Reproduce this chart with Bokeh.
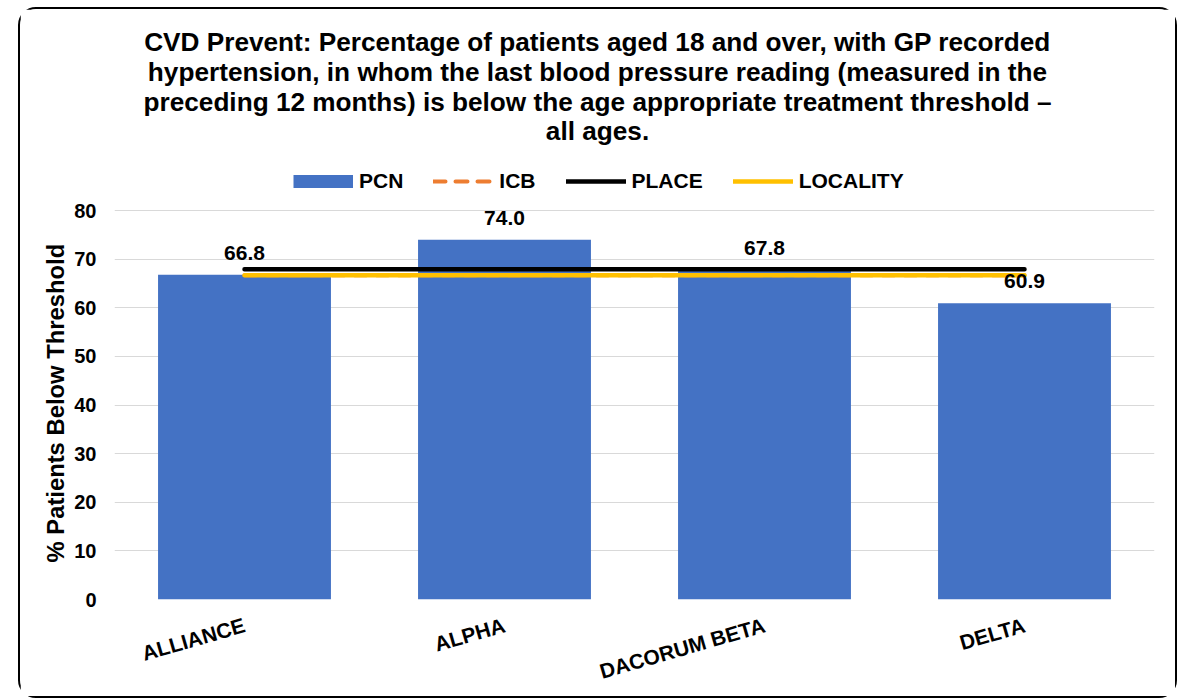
from bokeh.plotting import figure
from bokeh.models import (Label, LabelSet, Legend, LegendItem, ColumnDataSource, Title,
                          FactorRange, Range1d, FixedTicker)
from bokeh.layouts import column
from bokeh.embed import file_html
from bokeh.resources import INLINE
from bokeh.core.properties import value

# ---- data ----
categories = ["ALLIANCE", "ALPHA", "DACORUM BETA", "DELTA"]
pcn = [66.8, 74.0, 67.8, 60.9]
icb = [66.7, 66.7, 66.7, 66.7]
place = [67.9, 67.9, 67.9, 67.9]
locality = [66.7, 66.7, 66.7, 66.7]
y_ticks = [0, 10, 20, 30, 40, 50, 60, 70, 80]
title_lines = [
    "CVD Prevent: Percentage of patients aged 18 and over, with GP recorded",
    "hypertension, in whom the last blood pressure reading (measured in the",
    "preceding 12 months) is below the age appropriate treatment threshold \u2013",
    "all ages.",
]
y_label = "% Patients Below Threshold"

FONT = "Liberation Sans"
BLUE = "#4472C4"
ORANGE = "#ED7D31"
GOLD = "#FFC000"

src = ColumnDataSource(dict(
    cat=categories, pcn=pcn, icb=icb, place=place, locality=locality,
    lbl=[f"{v:.1f}" for v in pcn],
))

W, H = 1155, 687
BOTTOM = 97
FRAME_H = H - BOTTOM          # frame spans from the top of the figure
AXIS_PX = 389                 # pixels used by 0..80
y_top = 80 * FRAME_H / AXIS_PX

p = figure(x_range=FactorRange(*categories), y_range=Range1d(0, y_top),
           width=W, height=H, output_backend="svg", toolbar_location=None,
           min_border_left=94, min_border_right=21, min_border_top=0,
           min_border_bottom=BOTTOM)
p.outline_line_color = None
p.background_fill_color = "white"
p.border_fill_color = "white"

bars = p.vbar(x="cat", top="pcn", width=0.665, source=src, fill_color=BLUE, line_color=None)
icb_r = p.line(x="cat", y="icb", source=src, line_color=ORANGE, line_width=4,
               line_dash="12 10", line_cap="round")
place_r = p.line(x="cat", y="place", source=src, line_color="black", line_width=4.5,
                 line_cap="round")
loc_r = p.line(x="cat", y="locality", source=src, line_color=GOLD, line_width=4.5,
               line_cap="round")
# legend swatch for the PCN bars (draws nothing in the plot itself)
pcn_sw = p.line(x=[categories[0]], y=[float("nan")], line_color=BLUE, line_width=13,
                line_cap="butt")

labels = LabelSet(x="cat", y="pcn", text="lbl", source=src, text_align="center",
                  text_baseline="middle", y_offset=22, text_font=value(FONT),
                  text_font_style="bold", text_font_size="21px", text_color="black")
p.add_layout(labels)

# axes
p.xgrid.grid_line_color = None
p.ygrid.grid_line_color = "#D9D9D9"
p.ygrid.grid_line_width = 1
p.yaxis.ticker = FixedTicker(ticks=y_ticks)
for ax in (p.xaxis[0], p.yaxis[0]):
    ax.axis_line_color = None
    ax.major_tick_line_color = None
    ax.minor_tick_line_color = None
    ax.major_tick_out = 0
    ax.major_tick_in = 0
    ax.major_label_text_font = FONT
    ax.major_label_text_font_style = "bold"
    ax.major_label_text_color = "black"
p.yaxis.major_label_text_font_size = "20px"
p.yaxis.major_label_standoff = 18
p.xaxis.major_label_text_font_size = "21px"
p.xaxis.major_label_orientation = 0.28
p.xaxis.major_label_standoff = 25

# y-axis title, starting a little above the 0 line
p.add_layout(Title(text=y_label, align="left", offset=37, standoff=6,
                   text_font=FONT, text_font_style="bold", text_font_size="23.8px",
                   text_color="black"), "left")

# legend (inside the tall frame, above the 80 gridline)
legend = Legend(items=[
    LegendItem(label="PCN", renderers=[pcn_sw]),
    LegendItem(label="ICB", renderers=[icb_r]),
    LegendItem(label="PLACE", renderers=[place_r]),
    LegendItem(label="LOCALITY", renderers=[loc_r]),
], orientation="horizontal", location=(179, 406), glyph_width=60, glyph_height=16,
    label_standoff=6, spacing=30, padding=0, margin=0, border_line_color=None,
    background_fill_alpha=0, label_text_font=FONT, label_text_font_style="bold",
    label_text_font_size="21px", label_text_color="black")
p.add_layout(legend, "center")

# chart title lines
title_y = [558, 528, 498, 469]
for txt, ty in zip(title_lines, title_y):
    p.add_layout(Label(x=483, y=ty, x_units="screen", y_units="screen", text=txt,
                       text_align="center", text_baseline="middle",
                       text_font=FONT, text_font_style="bold",
                       text_font_size="26.2px", text_color="black"))

layout = column(p, margin=(7, 0, 0, 18),
                styles={"border": "2px solid black", "border-radius": "18px",
                        "background": "white"})

open("out.html", "w").write(file_html(layout, INLINE))
